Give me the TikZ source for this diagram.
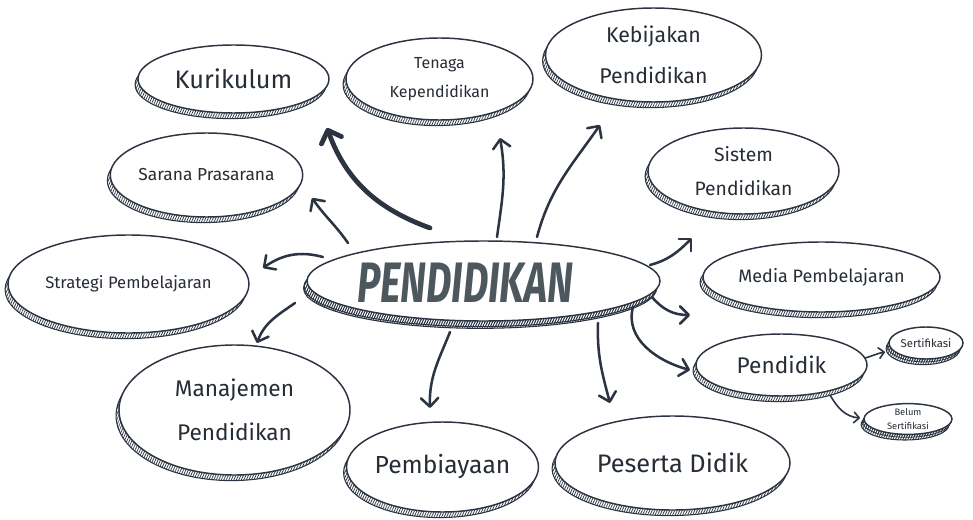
\documentclass[tikz,border=0pt]{standalone}
\usepackage{fontspec}
\setmainfont{Fira Sans}
\usetikzlibrary{shapes.geometric,shadows,arrows.meta,patterns.meta}
\definecolor{ink}{HTML}{2C3441}
\definecolor{txt}{HTML}{262D35}
\definecolor{headc}{HTML}{4D575E}
\begin{document}
\begin{tikzpicture}[x=0.75pt,y=0.75pt,
  hatch/.style={opacity=1, draw=ink, line width=0.8pt,
    pattern={Lines[angle=65, distance=1.7pt, line width=0.55pt]}, pattern color=ink},
  bub/.style 2 args={ellipse, draw=ink, line width=1.1pt, fill=white, inner sep=0pt,
    minimum width=#1*0.75pt, minimum height=#2*0.75pt, text=txt, align=center,
    drop shadow={shadow xshift=-2.2pt, shadow yshift=-4.2pt, hatch}},
  small/.style={drop shadow={shadow xshift=-1.2pt, shadow yshift=-2.2pt, hatch, line width=0.6pt}},
  fs/.style 2 args={font=\fontsize{#1}{#2}\selectfont},
  arr/.style={draw=ink, line width=1.9pt, line cap=round,
    -{Straight Barb[length=6.5pt, width=13pt, round]}},
  thickarr/.style={draw=ink, line width=3.6pt, line cap=round,
    -{Straight Barb[length=8pt, width=16pt, round]}},
  thinarr/.style={draw=ink, line width=1.2pt, line cap=round,
    -{Straight Barb[length=4pt, width=8pt, round]}}
]
\fill[white] (0,0) rectangle (973,-520);
\useasboundingbox (0,0) rectangle (973,-520);

% central topic
\node[bub={353}{80}, drop shadow={shadow xshift=-2.6pt, shadow yshift=-5.5pt, hatch}] (main) at (483.5,-281) {};
\node[text=headc, font=\fontsize{29.5}{30}\bfseries\itshape\selectfont] (title) at (465,-283)
  {\scalebox{1}[1.45]{PENDIDIKAN}};

% branches
\node[bub={191}{68}, fs={19}{36}]  (kur) at (233.5,-79)  {Kurikulum};
\node[bub={187}{82}, fs={12}{22}]  (tnk) at (439.5,-79)  {Tenaga\\Kependidikan};
\node[bub={216}{94}, fs={16}{31}]  (keb) at (653.5,-55)  {Kebijakan\\Pendidikan};
\node[bub={191}{86}, fs={14.5}{26}] (sis) at (743.5,-171) {Sistem\\Pendidikan};
\node[bub={237}{70}, fs={13.5}{25}] (med) at (821.5,-277) {Media Pembelajaran};
\node[bub={171}{62}, fs={17}{30}]  (pdk) at (781.5,-365) {Pendidik};
\node[bub={74}{32}, small, fs={8.5}{12}] (ser) at (926,-343) {Sertifikasi};
\node[bub={88}{30}, small, fs={7}{11}]   (bel) at (908,-419) {Belum\\Sertifikasi};
\node[bub={235}{94}, fs={19}{34}]  (pes) at (672.5,-463) {Peserta Didik};
\node[bub={181}{90}, fs={18.5}{34}] (pem) at (442.5,-467) {Pembiayaan};
\node[bub={231}{130}, fs={17}{33}] (man) at (234.5,-410) {Manajemen\\Pendidikan};
\node[bub={241}{98}, fs={12.5}{22}] (str) at (128.5,-284) {Strategi Pembelajaran};
\node[bub={187}{84}, fs={13}{24}]  (sar) at (206.5,-175) {Sarana Prasarana};

% connectors from the central topic
\draw[thickarr] ([shift={(-53.5,53)}]main.center) to[out=160,in=-70] ([shift={(93.5,-49)}]kur.center);
\draw[arr] ([shift={(-135.5,38)}]main.center) to[out=125,in=-55] ([shift={(105.5,-23)}]sar.center);
\draw[arr] ([shift={(-160.5,24)}]main.center) to[out=165,in=35] ([shift={(134.5,16)}]str.center);
\draw[arr] ([shift={(-188.5,-22)}]main.center) to[out=-145,in=70] ([shift={(22.5,67)}]man.center);
\draw[arr] ([shift={(-33.5,-51)}]main.center) to[out=-112,in=92] ([shift={(-12.5,59)}]pem.center);
\draw[arr] ([shift={(114.5,-42)}]main.center) to[out=-92,in=105] ([shift={(-62.5,60)}]pes.center);
\draw[arr] ([shift={(149.5,-26)}]main.center) to[out=-105,in=165] ([shift={(-91.5,-5)}]pdk.center);
\draw[arr] ([shift={(168.5,-16)}]main.center) to[out=-50,in=180] ([shift={(-131.5,-38)}]med.center);
\draw[arr] ([shift={(166.5,16)}]main.center) to[out=15,in=-135] ([shift={(-51.5,-67)}]sis.center);
\draw[arr] ([shift={(13.5,44)}]main.center) to[out=82,in=-80] ([shift={(60.5,-59)}]tnk.center);
\draw[arr] ([shift={(53.5,44)}]main.center) to[out=75,in=-125] ([shift={(-53.5,-70)}]keb.center);

% sub-branches of Pendidik
\draw[thinarr] ([shift={(83.5,7)}]pdk.center) to[out=15,in=-170] ([shift={(-41,-9)}]ser.center);
\draw[thinarr] ([shift={(48.5,-30)}]pdk.center) to[out=-60,in=175] ([shift={(-48,1)}]bel.center);
\end{tikzpicture}
\end{document}
